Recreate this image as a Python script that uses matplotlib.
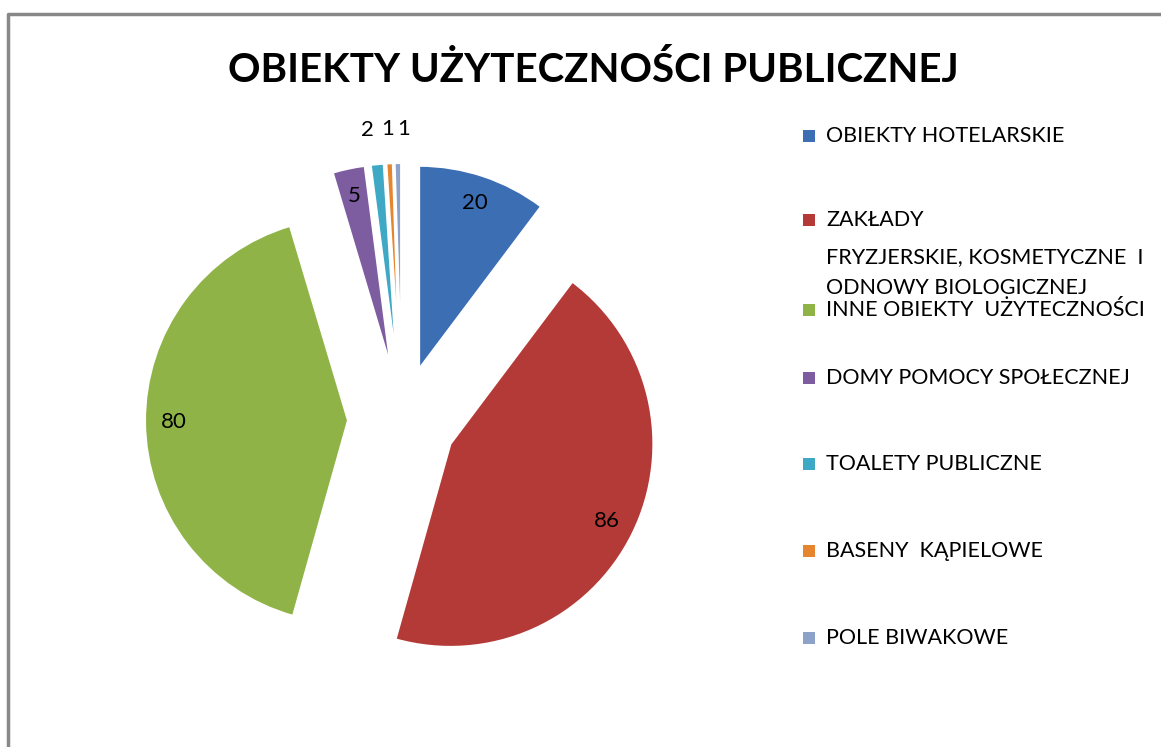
import numpy as np
import matplotlib
matplotlib.use("Agg")
import matplotlib.pyplot as plt
from matplotlib.patches import Rectangle

plt.rcParams['font.family'] = ['Lato', 'DejaVu Sans']

# dane
categories = ['OBIEKTY HOTELARSKIE',
              'ZAKŁADY\nFRYZJERSKIE, KOSMETYCZNE  I\nODNOWY BIOLOGICZNEJ',
              'INNE OBIEKTY  UŻYTECZNOŚCI',
              'DOMY POMOCY SPOŁECZNEJ',
              'TOALETY PUBLICZNE',
              'BASENY  KĄPIELOWE',
              'POLE BIWAKOWE']
values = [20, 86, 80, 5, 2, 1, 1]
colors = ['#3c6eb4', '#b33a37', '#8fb347', '#7e5ca0', '#3fa8c4', '#e5862f', '#8da2c8']

W, H = 1161, 747
fig = plt.figure(figsize=(W / 100, H / 100), dpi=100)
ax = fig.add_axes([0, 0, 1, 1])
ax.set_xlim(0, W)
ax.set_ylim(0, H)
ax.axis('off')

total = sum(values)


def pct_label(p):
    v = int(round(p * total / 100))
    return str(v) if v > 2 else ''


# male wartosci opisane nad wykresem
outer = [str(v) if v <= 2 else '' for v in values]

wedges, texts, autotexts = ax.pie(values, explode=[54] * len(values), center=(402, H - 420),
                                  radius=203, startangle=90, counterclock=False,
                                  colors=colors, autopct=pct_label, pctdistance=0.86,
                                  labels=outer, labeldistance=1.17,
                                  wedgeprops=dict(edgecolor='white', linewidth=1.5),
                                  textprops=dict(fontsize=16, color='black'))
for t in autotexts:
    t.set_ha('center')
    t.set_va('center')
for t in texts:
    t.set_va('center')
    x = t.get_position()[0]
    # rozsuniecie "2", "1", "1"
    if x < 380:
        t.set_ha('right')
    elif x > 395:
        t.set_ha('left')
    else:
        t.set_ha('center')
ax.set_xlim(0, W)
ax.set_ylim(0, H)
ax.set_aspect('auto')

# tytul
ax.text(593, H - 70, 'OBIEKTY UŻYTECZNOŚCI PUBLICZNEJ', fontsize=29, fontweight='bold',
        ha='center', va='center')

# legenda
legend_y = [136, 220, 310, 378, 464, 551, 638]
line_off = [0, 37, 68]
for lab, c, y in zip(categories, colors, legend_y):
    ax.add_patch(Rectangle((803, H - y - 6), 12, 12, facecolor=c, edgecolor='none'))
    for i, line in enumerate(lab.split('\n')):
        ax.text(826, H - y - line_off[i], line, fontsize=15.5, ha='left', va='center')

# ramka
ax.plot([8, 8, W], [0, H - 14, H - 14], color='#888888', lw=2.5, solid_capstyle='butt')

fig.savefig('out.png', dpi=100)
